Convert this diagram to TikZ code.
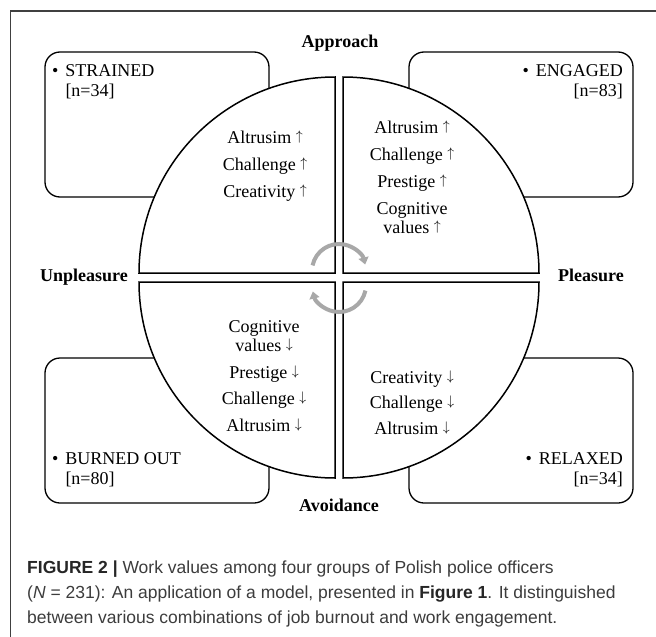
\documentclass[tikz,border=0pt]{standalone}
\usepackage{fontspec}
\usepackage{graphicx}
\setmainfont{Liberation Serif}
\newfontfamily\capfont{Liberation Sans}
\usetikzlibrary{arrows.meta}

\definecolor{cyclegray}{RGB}{168,168,168}
\definecolor{captext}{RGB}{60,60,60}

\newcommand{\up}{\ \raisebox{0.155em}{\scalebox{0.8}{$\uparrow$}}}
\newcommand{\down}{\ \raisebox{0.155em}{\scalebox{0.8}{$\downarrow$}}}
\newcommand{\bul}{\textbullet\hspace{7pt}}

\tikzset{
  grp/.style={draw,line width=1.3pt,rounded corners=15pt},
  grptext/.style={inner sep=0pt,font=\fontsize{18}{19.5}\selectfont},
  quad/.style={draw,fill=white,line width=1.5pt},
  vals/.style={align=center,inner sep=0pt,font=\fontsize{18}{19}\selectfont},
  axis/.style={inner sep=0pt,font=\bfseries\fontsize{18}{20}\selectfont},
  cyc/.style={draw=cyclegray,line width=4pt,-{Triangle[length=7pt,width=10pt]}}
}

\begin{document}
\begin{tikzpicture}[x=1pt,y=-1pt]
    \useasboundingbox (0,0) rectangle (656,637);
    \draw[line width=1.2pt,black!75] (10.5,637) -- (10.5,11) -- (656,11);

    % group boxes, drawn first so the circle sits on top
    \draw[grp] (45,52) rectangle (269,197);
    \draw[grp] (409,52) rectangle (633,197);
    \draw[grp] (45,358) rectangle (269,503);
    \draw[grp] (409,358) rectangle (633,503);

    % base of a two-line node is its last line
    \node[grptext,align=left,anchor=base west] (strained) at (52,96)
        {\bul STRAINED\\\hphantom{\bul}[n=34]};
    \node[grptext,align=right,anchor=base east] (engaged) at (623,96)
        {\bul ENGAGED\\{}[n=83]};
    \node[grptext,align=left,anchor=base west] (burned) at (52,484)
        {\bul BURNED OUT\\\hphantom{\bul}[n=80]};
    \node[grptext,align=right,anchor=base east] (relaxed) at (623,484)
        {\bul RELAXED\\{}[n=34]};

    % the four quarters
    \draw[quad] (335,273) -- (139,273) arc[start angle=180,end angle=270,radius=196] -- cycle;
    \draw[quad] (343,273) -- (343,77) arc[start angle=270,end angle=360,radius=196] -- cycle;
    \draw[quad] (343,282) -- (539,282) arc[start angle=0,end angle=90,radius=196] -- cycle;
    \draw[quad] (335,282) -- (335,478) arc[start angle=90,end angle=180,radius=196] -- cycle;

    \node[vals,anchor=base] (strainedvals) at (265,197)
        {Altrusim\up\\[8pt] Challenge\up\\[8pt] Creativity\up};
    \node[vals,anchor=base] (engagedvals) at (412,233)
        {Altrusim\up\\[8pt] Challenge\up\\[8pt] Prestige\up\\[8pt] Cognitive\\values\up};
    \node[vals,anchor=base] (burnedvals) at (264,431)
        {Cognitive\\values\down\\[7.5pt] Prestige\down\\[7.5pt] Challenge\down\\[7.5pt] Altrusim\down};
    \node[vals,anchor=base] (relaxedvals) at (412,434)
        {Creativity\down\\[6.5pt] Challenge\down\\[6.5pt] Altrusim\down};

    \draw[cyc] (339,271) ++(192:27) arc[start angle=192,end angle=346,radius=27];
    \draw[cyc] (339,285) ++(12:27) arc[start angle=12,end angle=166,radius=27];

    \node[axis,anchor=base] (approach) at (340,47) {Approach};
    \node[axis,anchor=base] (avoidance) at (339,511) {Avoidance};
    \node[axis,anchor=base west] (unpleasure) at (40,281) {Unpleasure};
    \node[axis,anchor=base east] (pleasure) at (624,281) {Pleasure};

    \node[anchor=base west,align=left,inner sep=0pt,text=captext,
          font=\capfont\fontsize{17.5}{25}\selectfont] (caption) at (27,623)
        {{\color{black!85}\bfseries FIGURE 2 |} Work values among four groups of Polish police officers\\
         (\textit{N} = 231): An application of a model, presented in {\color{black!85}\bfseries Figure 1}. It distinguished\\
         between various combinations of job burnout and work engagement.};
\end{tikzpicture}
\end{document}
